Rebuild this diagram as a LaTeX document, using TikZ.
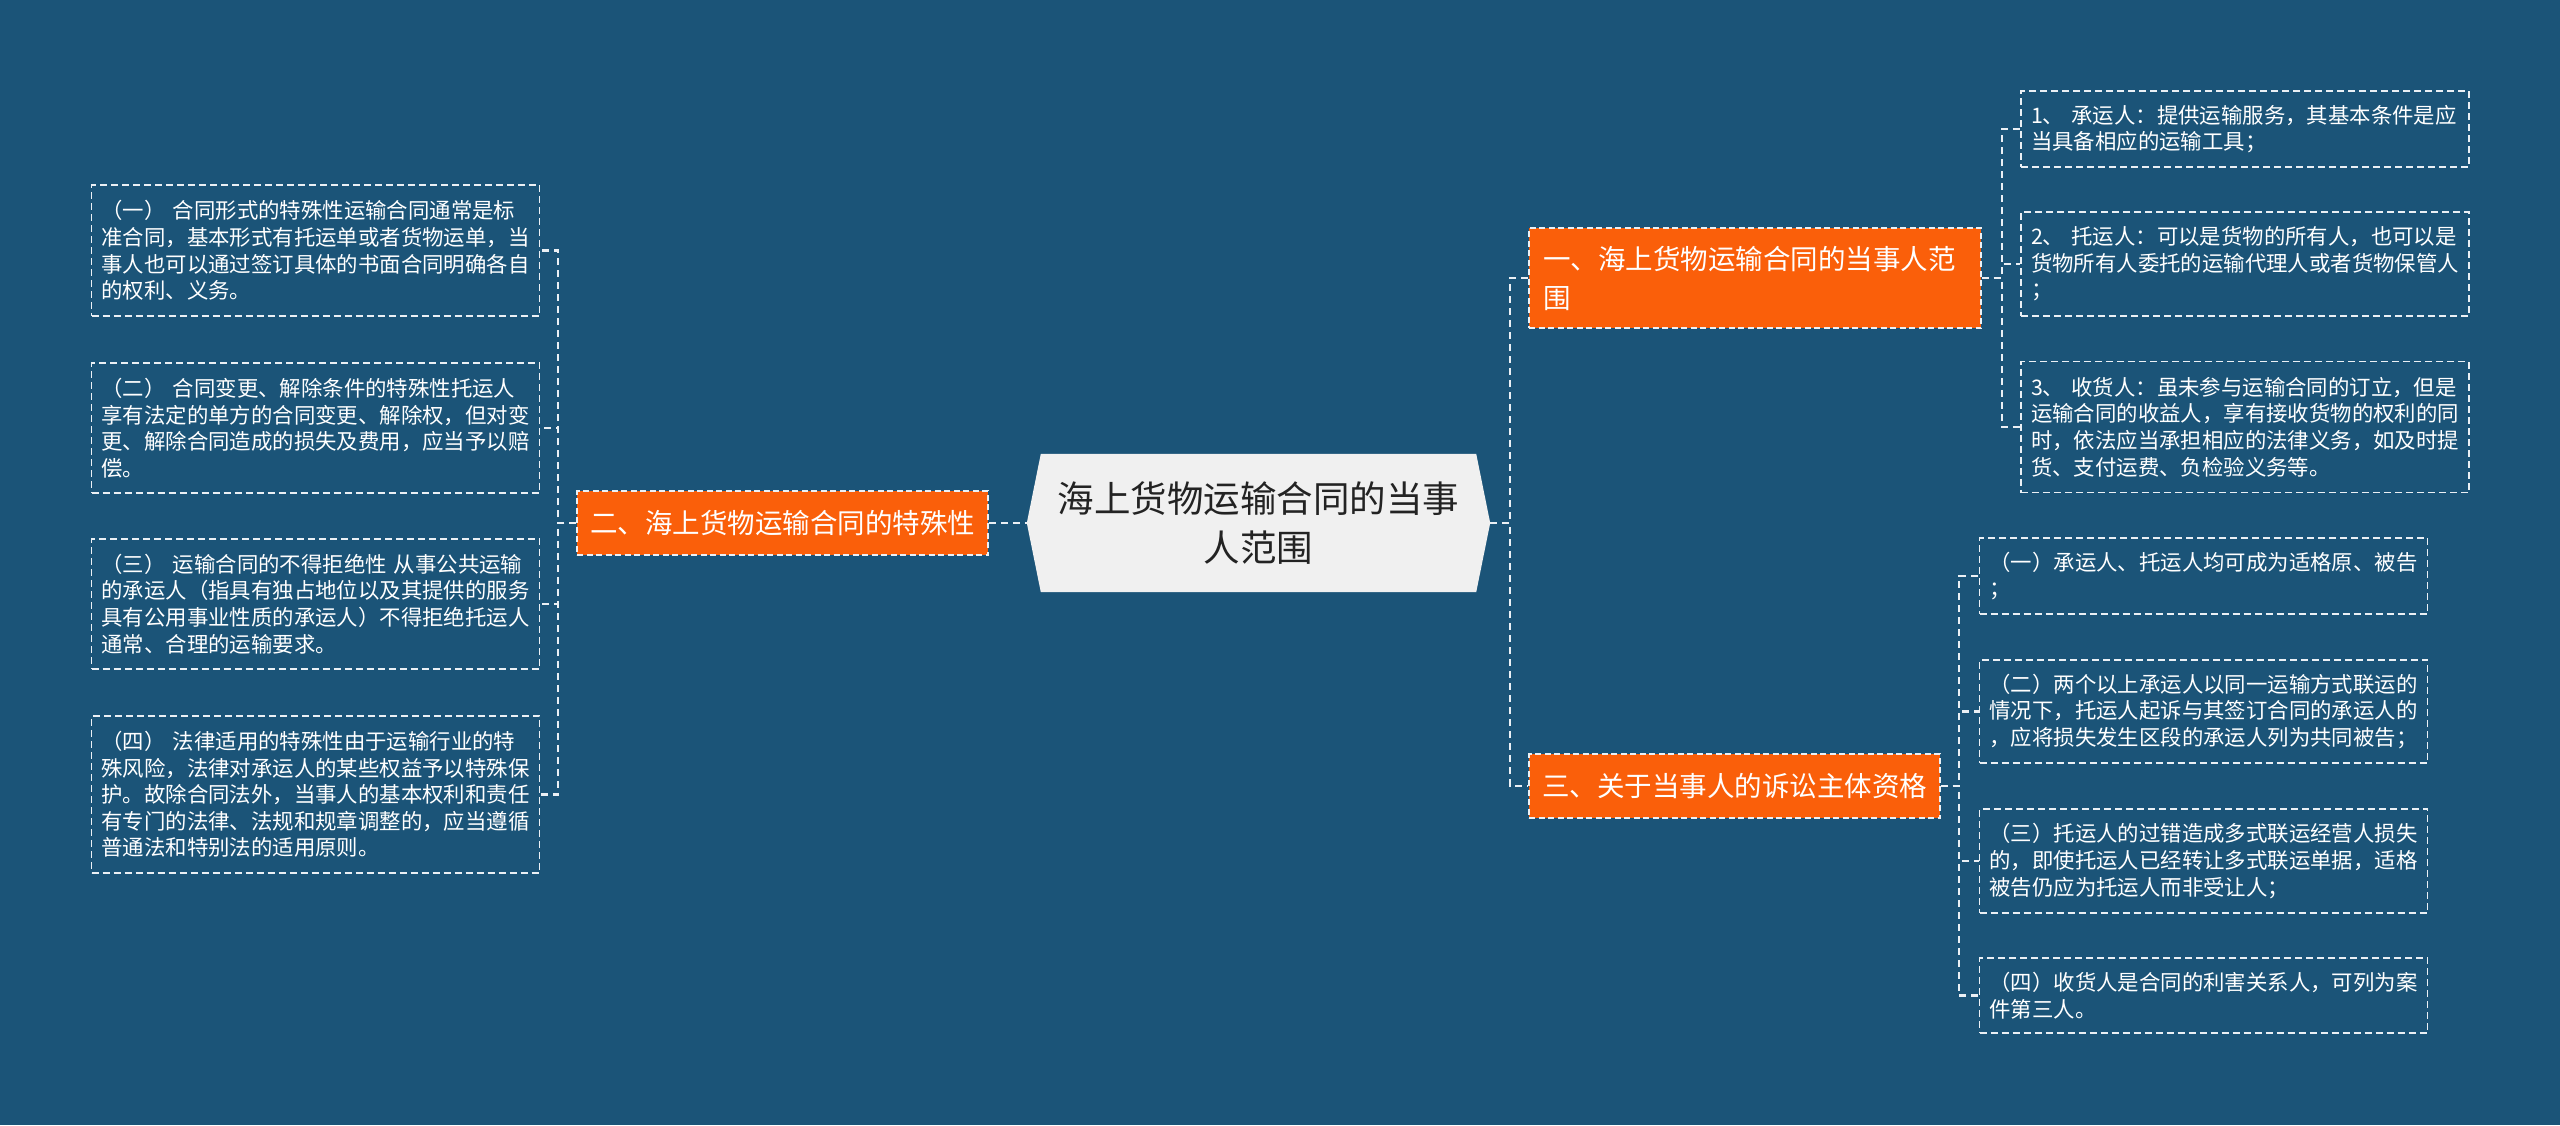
\documentclass[tikz,border=0pt]{standalone}
\usepackage{fontspec}
\setmainfont{Noto Sans CJK SC}
\usetikzlibrary{backgrounds}
\definecolor{bgblue}{RGB}{27,84,120}
\definecolor{orng}{RGB}{250,95,10}
\definecolor{hexgray}{RGB}{240,240,240}
\definecolor{darktext}{RGB}{35,35,35}
\definecolor{lineclr}{RGB}{235,240,245}
\newcommand\leaffont{\fontsize{21.4pt}{26.6pt}\selectfont}
\newcommand\midfont{\fontsize{27.5pt}{39pt}\selectfont}
\newcommand\rootfont{\fontsize{36.5pt}{49pt}\selectfont}
\begin{document}
\begin{tikzpicture}[x=1pt,y=-1pt,
  leafbox/.style={draw=lineclr, line width=1.8pt, dash pattern=on 7pt off 4pt, text=white, font=\leaffont, align=left, text width=428pt, inner xsep=10pt, inner ysep=0pt, minimum width=448pt},
  midbox/.style={fill=orng, draw=lineclr, line width=1.6pt, dash pattern=on 6pt off 3.5pt, text=white, font=\midfont, align=left, inner xsep=13pt, inner ysep=0pt},
  conn/.style={draw=lineclr, line width=2.2pt, dash pattern=on 7pt off 5pt},
]
\begin{pgfonlayer}{background}
\fill[bgblue] (0,0) rectangle (2560,1125);
\end{pgfonlayer}
\useasboundingbox (0,0) rectangle (2560,1125);

% root
\node[font=\rootfont, text=darktext, align=center, minimum width=463pt, minimum height=138pt, inner sep=0pt] (root) at (1258.5,523) {海上货物运输合同的当事\\人范围};
\begin{pgfonlayer}{background}
\fill[hexgray] (root.west) -- ([xshift=14pt]root.north west) -- ([xshift=-14pt]root.north east) -- (root.east) -- ([xshift=-14pt]root.south east) -- ([xshift=14pt]root.south west) -- cycle;
\end{pgfonlayer}

% main branches
\node[midbox, minimum width=452pt, minimum height=100pt, text width=424pt, inner xsep=14pt] (n1) at (1755,278) {一、海上货物运输合同的当事人范\\围};
\node[midbox, minimum width=411pt, minimum height=64pt] (n2) at (782.5,523) {二、海上货物运输合同的特殊性};
\node[midbox, minimum width=411pt, minimum height=64pt] (n3) at (1734.5,786) {三、关于当事人的诉讼主体资格};

% left leaves
\node[leafbox, minimum height=131pt] (l1) at (315.5,250.5) {（一） 合同形式的特殊性运输合同通常是标\\准合同，基本形式有托运单或者货物运单，当\\事人也可以通过签订具体的书面合同明确各自\\的权利、义务。};
\node[leafbox, minimum height=130pt] (l2) at (315.5,428) {（二） 合同变更、解除条件的特殊性托运人\\享有法定的单方的合同变更、解除权，但对变\\更、解除合同造成的损失及费用，应当予以赔\\偿。};
\node[leafbox, minimum height=130pt] (l3) at (315.5,604) {（三） 运输合同的不得拒绝性 从事公共运输\\的承运人（指具有独占地位以及其提供的服务\\具有公用事业性质的承运人）不得拒绝托运人\\通常、合理的运输要求。};
\node[leafbox, minimum height=157pt] (l4) at (315.5,794.5) {（四） 法律适用的特殊性由于运输行业的特\\殊风险，法律对承运人的某些权益予以特殊保\\护。故除合同法外，当事人的基本权利和责任\\有专门的法律、法规和规章调整的，应当遵循\\普通法和特别法的适用原则。};

% right leaves of n1
\node[leafbox, minimum height=76pt] (r1) at (2245,129) {1、 承运人：提供运输服务，其基本条件是应\\当具备相应的运输工具；};
\node[leafbox, minimum height=104pt] (r2) at (2245,264) {2、 托运人：可以是货物的所有人，也可以是\\货物所有人委托的运输代理人或者货物保管人\\；};
\node[leafbox, minimum height=131pt] (r3) at (2245,427) {3、 收货人：虽未参与运输合同的订立，但是\\运输合同的收益人，享有接收货物的权利的同\\时，依法应当承担相应的法律义务，如及时提\\货、支付运费、负检验义务等。};

% right leaves of n3
\node[leafbox, minimum height=76pt] (s1) at (2203.5,576) {（一）承运人、托运人均可成为适格原、被告\\；};
\node[leafbox, minimum height=103pt] (s2) at (2203.5,711.5) {（二）两个以上承运人以同一运输方式联运的\\情况下，托运人起诉与其签订合同的承运人的\\，应将损失发生区段的承运人列为共同被告；};
\node[leafbox, minimum height=104pt] (s3) at (2203.5,861) {（三）托运人的过错造成多式联运经营人损失\\的，即使托运人已经转让多式联运单据，适格\\被告仍应为托运人而非受让人；};
\node[leafbox, minimum height=75pt] (s4) at (2203.5,995.5) {（四）收货人是合同的利害关系人，可列为案\\件第三人。};

% spine points
\coordinate (sp2) at (558,523);
\coordinate (sp0) at (1510,523);
\coordinate (sp1) at (2002,278);
\coordinate (sp3) at (1959,786);

% connectors
\draw[conn] (n2.east) -- (root.west);
\foreach \t in {l1,l2,l3,l4} \draw[conn] (n2.west) -- (sp2) |- (\t.east);
\foreach \t in {n1,n3} \draw[conn] (root.east) -- (sp0) |- (\t.west);
\foreach \t in {r1,r2,r3} \draw[conn] (n1.east) -- (sp1) |- (\t.west);
\foreach \t in {s1,s2,s3,s4} \draw[conn] (n3.east) -- (sp3) |- (\t.west);
\end{tikzpicture}
\end{document}
